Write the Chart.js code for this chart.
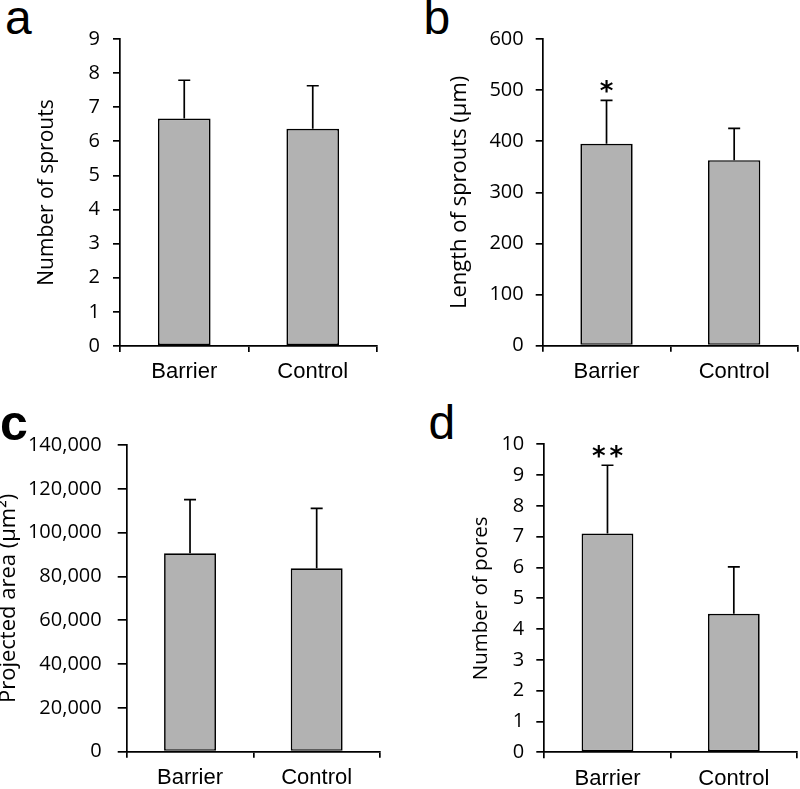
<!DOCTYPE html>
<html>
<head>
<meta charset="utf-8">
<script src="https://cdn.jsdelivr.net/npm/chart.js@4/dist/chart.umd.min.js"></script>
<style>
html,body{margin:0;padding:0;background:#fff;overflow:hidden;width:800px;height:789px}
.panel{position:absolute}
.letter{position:absolute;font-family:"Liberation Sans",Arial,sans-serif;font-size:48px;line-height:48px;color:#000;white-space:nowrap}
</style>
</head>
<body>
<div class="letter" style="left:5px;top:-5.6px">a</div>
<div class="letter" style="left:423.5px;top:-5.6px">b</div>
<div class="letter" style="left:0px;top:399.4px;font-weight:bold;font-size:50px">c</div>
<div class="letter" style="left:428.4px;top:399.4px">d</div>

<div class="panel" style="left:0;top:0"><canvas id="pa" width="400" height="390"></canvas></div>
<div class="panel" style="left:400px;top:0"><canvas id="pb" width="400" height="390"></canvas></div>
<div class="panel" style="left:0;top:390px"><canvas id="pc" width="400" height="399"></canvas></div>
<div class="panel" style="left:400px;top:390px"><canvas id="pd" width="400" height="399"></canvas></div>

<script>
// ---- data ----
const categories = ['Barrier', 'Control'];

const sproutCount = [6.67, 6.37];
const sproutCountErr = [1.12, 1.26];
const sproutCountStars = ['', ''];
const sproutCountTicks = { min: 0, max: 9, step: 1 };

const sproutLength = [395, 363];
const sproutLengthErr = [85, 62];
const sproutLengthStars = ['*', ''];
const sproutLengthTicks = { min: 0, max: 600, step: 100 };

const projectedArea = [90600, 83700];
const projectedAreaErr = [24500, 27400];
const projectedAreaStars = ['', ''];
const projectedAreaTicks = { min: 0, max: 140000, step: 20000 };

const poreCount = [7.10, 4.50];
const poreCountErr = [2.22, 1.52];
const poreCountStars = ['**', ''];
const poreCountTicks = { min: 0, max: 10, step: 1 };

// ---- error bars + significance marks ----
const errorBarPlugin = {
  id: 'errorBars',
  afterDatasetsDraw(chart, args, opts) {
    const ctx = chart.ctx;
    const y = chart.scales.y;
    const meta = chart.getDatasetMeta(0);
    const vals = chart.data.datasets[0].data;
    ctx.save();
    ctx.strokeStyle = '#000';
    ctx.lineWidth = 1.7;
    meta.data.forEach((bar, i) => {
      const x = bar.x;
      const yTop = y.getPixelForValue(vals[i]);
      const yErr = y.getPixelForValue(vals[i] + opts.errors[i]);
      ctx.beginPath();
      ctx.moveTo(x, yTop);
      ctx.lineTo(x, yErr);
      ctx.moveTo(x - 6, yErr);
      ctx.lineTo(x + 6, yErr);
      ctx.stroke();
      const s = opts.stars[i];
      if (s) {
        ctx.font = 'bold 26px "DejaVu Sans", sans-serif';
        ctx.fillStyle = '#000';
        ctx.textAlign = 'center';
        ctx.textBaseline = 'alphabetic';
        const sp = s.length > 1 ? 4 : 0;
        if ('letterSpacing' in ctx) ctx.letterSpacing = sp + 'px';
        const m = ctx.measureText(s);
        const cy = yErr - 14;
        ctx.fillText(s, x + sp / 2, cy + (m.actualBoundingBoxAscent - m.actualBoundingBoxDescent) / 2);
      }
    });
    ctx.restore();
  }
};

function makePanel(id, values, errors, stars, tk, title, geo) {
  const canvas = document.getElementById(id);
  const W = canvas.width, H = canvas.height;
  return new Chart(canvas, {
    type: 'bar',
    data: {
      labels: categories,
      datasets: [{
        data: values,
        backgroundColor: '#b2b2b2',
        borderColor: '#000',
        borderWidth: 1.7,
        borderSkipped: false,
        barPercentage: 0.41,
        categoryPercentage: 1.0
      }]
    },
    plugins: [errorBarPlugin],
    options: {
      responsive: false,
      animation: false,
      devicePixelRatio: 1,
      layout: { padding: { left: 0, top: geo.top, right: W - geo.right, bottom: 0 } },
      plugins: {
        legend: { display: false },
        tooltip: { enabled: false },
        errorBars: { errors: errors, stars: stars }
      },
      scales: {
        x: {
          afterFit: s => { s.height = H - geo.bottom; },
          grid: { drawOnChartArea: false, drawTicks: true, tickLength: 6, color: '#000', lineWidth: 1.7 },
          border: { color: '#000', width: 1.7 },
          ticks: { color: '#000', padding: 7, font: { family: '"Liberation Sans", Arial, sans-serif', size: 22 } }
        },
        y: {
          min: tk.min, max: tk.max,
          afterFit: s => { s.width = geo.left; },
          grid: { drawOnChartArea: false, drawTicks: true, tickLength: geo.tickLen, color: '#000', lineWidth: 1.7 },
          border: { color: '#000', width: 1.7 },
          ticks: {
            stepSize: tk.step, color: '#000', padding: geo.tickPad,
            font: { family: '"Open Sans", sans-serif', size: 20 },
            callback: v => Number(v).toLocaleString('en-US')
          },
          title: {
            display: true, text: title, color: '#000',
            font: { family: '"Open Sans", sans-serif', size: geo.titleSize, lineHeight: geo.titleLH },
            padding: { top: geo.titlePad, bottom: 0 }
          }
        }
      }
    }
  });
}

makePanel('pa', sproutCount, sproutCountErr, sproutCountStars, sproutCountTicks, 'Number of sprouts',
  { left: 120, right: 377, top: 39, bottom: 346, tickLen: 7, tickPad: 13, titleSize: 21, titleLH: 1.2, titlePad: 34.3 });
makePanel('pb', sproutLength, sproutLengthErr, sproutLengthStars, sproutLengthTicks, 'Length of sprouts (μm)',
  { left: 142.7, right: 398, top: 39, bottom: 345.7, tickLen: 7, tickPad: 12, titleSize: 22, titleLH: 1.2, titlePad: 46.6 });
makePanel('pc', projectedArea, projectedAreaErr, projectedAreaStars, projectedAreaTicks, 'Projected area (μm²)',
  { left: 126.7, right: 380, top: 55, bottom: 361.7, tickLen: 9, tickPad: 16, titleSize: 22, titleLH: 0.8, titlePad: 0 });
makePanel('pd', poreCount, poreCountErr, poreCountStars, poreCountTicks, 'Number of pores',
  { left: 144.3, right: 397, top: 54.3, bottom: 362.3, tickLen: 8, tickPad: 12, titleSize: 20.5, titleLH: 1.2, titlePad: 69 });
</script>
</body>
</html>
